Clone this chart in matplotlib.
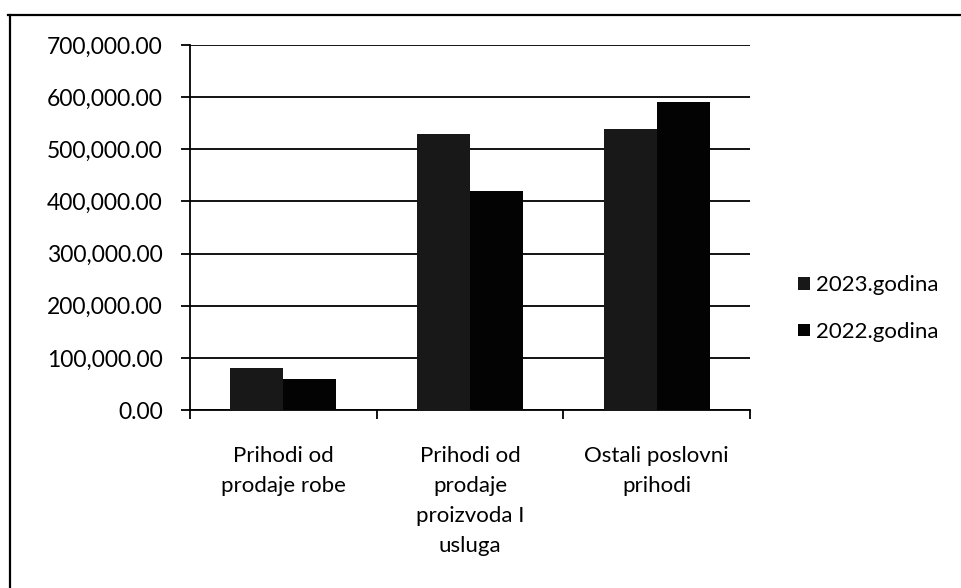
import numpy as np
import matplotlib.pyplot as plt
from matplotlib.lines import Line2D
from matplotlib.ticker import FuncFormatter

categories = ["Prihodi od\nprodaje robe",
              "Prihodi od\nprodaje\nproizvoda I\nusluga",
              "Ostali poslovni\nprihodi"]
series_names = ["2023.godina", "2022.godina"]
vals_2023 = [80000, 530000, 538000]
vals_2022 = [60000, 420000, 590000]

plt.rcParams['font.family'] = ['Lato', 'DejaVu Sans']

fig = plt.figure(figsize=(9.61, 5.88), dpi=100)
ax = fig.add_axes([0.1977, 0.3027, 0.5827, 0.6208])

x = np.arange(len(categories))
w = 0.284
ax.bar(x - w / 2, vals_2023, w, color='#181818', label=series_names[0], zorder=3)
ax.bar(x + w / 2, vals_2022, w, color='#030303', label=series_names[1], zorder=3)

ax.set_xlim(-0.5, 2.5)
ax.set_ylim(0, 700000)
ax.set_yticks(np.arange(0, 700001, 100000))
ax.yaxis.set_major_formatter(FuncFormatter(lambda v, p: f"{v:,.2f}"))
ax.grid(axis='y', color='black', linewidth=1.3, zorder=0)

# category boundaries as ticks, labels in the middle
ax.set_xticks([-0.5, 0.5, 1.5, 2.5])
ax.set_xticklabels([])
ax.set_xticks(x, minor=True)
ax.set_xticklabels(categories, minor=True, fontsize=16, linespacing=1.62, va='top')
ax.tick_params(axis='x', which='minor', length=0, pad=26)
ax.tick_params(axis='x', which='major', length=6.5, width=1.3, direction='out')
ax.tick_params(axis='y', length=6.5, width=1.3, direction='out', labelsize=16.5, pad=13)

for s in ['top', 'right']:
    ax.spines[s].set_visible(False)
ax.spines['left'].set_linewidth(1.3)
ax.spines['bottom'].set_linewidth(1.3)

leg = fig.legend(loc='center left', bbox_to_anchor=(0.81, 0.475), frameon=False,
                 fontsize=16, handlelength=0.5, handleheight=0.5,
                 handletextpad=0.3, labelspacing=1.2)

# outer chart frame (continues past the picture)
fig.add_artist(Line2D([8 / 961, 1.0], [1 - 15 / 588, 1 - 15 / 588],
                      transform=fig.transFigure, color='black', linewidth=1.6))
fig.add_artist(Line2D([10 / 961, 10 / 961], [0.0, 1 - 15 / 588],
                      transform=fig.transFigure, color='black', linewidth=1.6))

fig.savefig('out.png', dpi=100)
